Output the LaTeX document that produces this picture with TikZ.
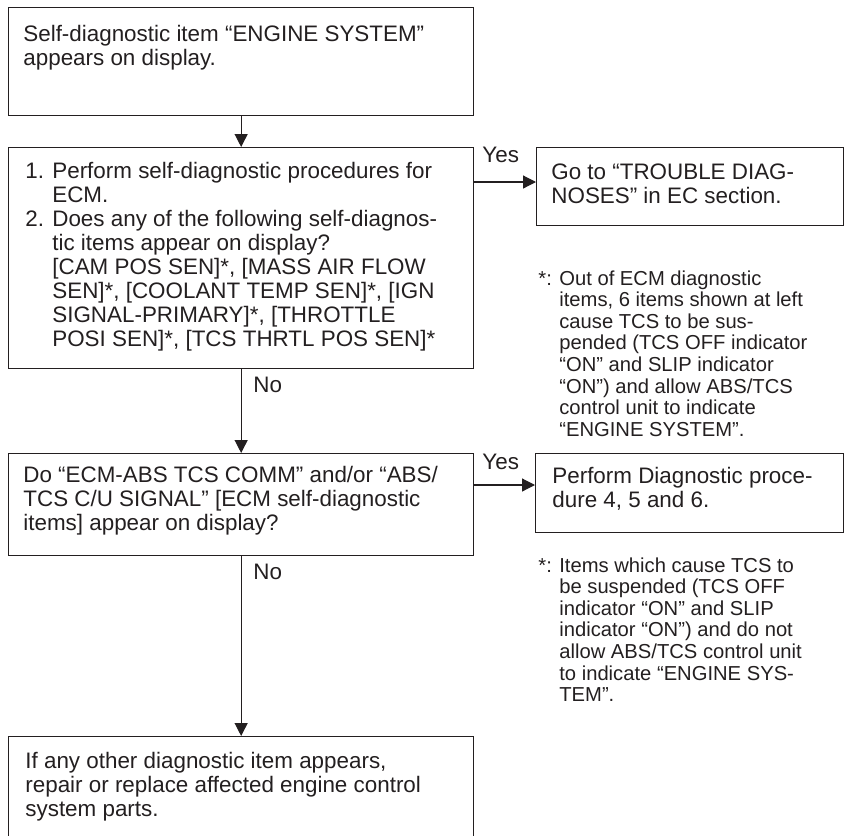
\documentclass[tikz,border=0pt]{standalone}
\usepackage{fontspec}
\setmainfont{Liberation Sans}
\usetikzlibrary{arrows.meta}
\definecolor{ink}{RGB}{35,31,32}
\newcommand{\boxfont}{\fontsize{11.2}{12}\selectfont}
\newcommand{\notefont}{\fontsize{10.1}{10.8}\selectfont}
\tikzset{
  box/.style={draw=ink, line width=0.65pt, inner sep=0pt, anchor=north west, minimum width=232.5pt},
  rbox/.style={draw=ink, line width=0.65pt, inner sep=0pt, anchor=north west},
  txt/.style={anchor=north west, inner sep=0pt, align=left, text=ink, font=\boxfont},
  note/.style={anchor=north west, inner sep=0pt, align=left, text=ink, font=\notefont},
  lbl/.style={anchor=west, inner sep=0pt, text=ink, font=\boxfont},
  arr/.style={draw=ink, line width=0.6pt, -{Triangle[length=6.5pt,width=6.5pt]}},
}
\begin{document}
\begin{tikzpicture}[x=0.5pt,y=-0.5pt]
\useasboundingbox (0,0) rectangle (848,836);
\clip (0,0) rectangle (848,836);
% boxes
\node[box, minimum height=54pt] (b1) at (8,7) {};
\node[box, minimum height=110.5pt] (b2) at (8,147) {};
\node[box, minimum height=51pt] (b3) at (8,453) {};
\node[box, minimum height=82pt] (b4) at (8,736) {};
\node[rbox, minimum width=153.5pt, minimum height=39pt] (g1) at (536,147) {};
\node[rbox, minimum width=154pt, minimum height=39.5pt] (g2) at (535,453) {};
% texts
\node[txt] (t1) at (23,25) {Self-diagnostic item “ENGINE SYSTEM”\\appears on display.};
\node[txt] (t2) at (25,162) {1. Perform self-diagnostic procedures for\\
\phantom{1. }ECM.\\
2. Does any of the following self-diagnos-\\
\phantom{2. }tic items appear on display?\\
\phantom{2. }[CAM POS SEN]*, [MASS AIR FLOW\\
\phantom{2. }SEN]*, [COOLANT TEMP SEN]*, [IGN\\
\phantom{2. }SIGNAL-PRIMARY]*, [THROTTLE\\
\phantom{2. }POSI SEN]*, [TCS THRTL POS SEN]*};
\node[txt] (t3) at (23,466) {Do “ECM-ABS TCS COMM” and/or “ABS/\\TCS C/U SIGNAL” [ECM self-diagnostic\\items] appear on display?};
\node[txt] (t4) at (25,752) {If any other diagnostic item appears,\\repair or replace affected engine control\\system parts.};
\node[txt] (tg1) at (551,163) {Go to “TROUBLE DIAG-\\NOSES” in EC section.};
\node[txt] (tg2) at (552,467) {Perform Diagnostic proce-\\dure 4, 5 and 6.};
% notes
\node[note] (n1) at (538,270) {*: Out of ECM diagnostic\\
\phantom{*: }items, 6 items shown at left\\
\phantom{*: }cause TCS to be sus-\\
\phantom{*: }pended (TCS OFF indicator\\
\phantom{*: }“ON” and SLIP indicator\\
\phantom{*: }“ON”) and allow ABS/TCS\\
\phantom{*: }control unit to indicate\\
\phantom{*: }“ENGINE SYSTEM”.};
\node[note] (n2) at (538,557) {*: Items which cause TCS to\\
\phantom{*: }be suspended (TCS OFF\\
\phantom{*: }indicator “ON” and SLIP\\
\phantom{*: }indicator “ON”) and do not\\
\phantom{*: }allow ABS/TCS control unit\\
\phantom{*: }to indicate “ENGINE SYS-\\
\phantom{*: }TEM”.};
% connectors
\draw[arr] (b1.south) -- (b2.north);
\draw[arr] (b2.south) -- (b3.north);
\draw[arr] (b3.south) -- (b4.north);
\draw[arr] ([yshift=-17.5pt]b2.north east) -- ([yshift=-17.5pt]b2.north east -| g1.west);
\draw[arr] ([yshift=-16pt]b3.north east) -- ([yshift=-16pt]b3.north east -| g2.west);
% labels
\node[lbl] (y1) at (482,155) {Yes};
\node[lbl] (y2) at (482,462) {Yes};
\node[lbl] (no1) at (253,385) {No};
\node[lbl] (no2) at (253,572) {No};
\end{tikzpicture}
\end{document}
